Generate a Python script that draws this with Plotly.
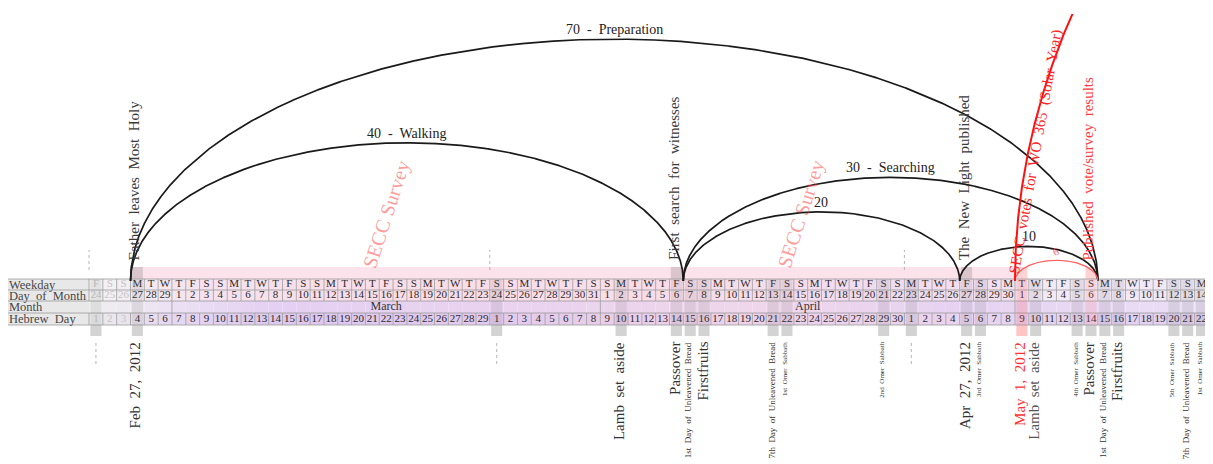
import numpy as np
import pandas as pd
import plotly.graph_objects as go

# ============================ DATA ============================
ORIGIN = "2012-02-27"                 # x = 0  (Feb 27, 2012)
table_start = "2012-02-24"
table_end = "2012-05-14"

weekday = ["F", "S", "S", "M", "T", "W", "T",
           "F", "S", "S", "M", "T", "W", "T",
           "F", "S", "S", "M", "T", "W", "T",
           "F", "S", "S", "M", "T", "W", "T",
           "F", "S", "S", "M", "T", "W", "T",
           "F", "S", "S", "M", "T", "W", "T",
           "F", "S", "S", "M", "T", "W", "T",
           "F", "S", "S", "M", "T", "W", "T",
           "F", "S", "S", "M", "T", "W", "T",
           "F", "S", "S", "M", "T", "W", "T",
           "F", "S", "S", "M", "T", "W", "T",
           "F", "S", "S", "M"]

day_of_month = [24, 25, 26, 27, 28, 29,
                1, 2, 3, 4, 5, 6, 7, 8, 9, 10, 11, 12, 13, 14, 15, 16,
                17, 18, 19, 20, 21, 22, 23, 24, 25, 26, 27, 28, 29, 30, 31,
                1, 2, 3, 4, 5, 6, 7, 8, 9, 10, 11, 12, 13, 14, 15, 16,
                17, 18, 19, 20, 21, 22, 23, 24, 25, 26, 27, 28, 29, 30,
                1, 2, 3, 4, 5, 6, 7, 8, 9, 10, 11, 12, 13, 14]

hebrew_day = [1, 2, 3, 4, 5, 6, 7, 8, 9, 10, 11, 12, 13, 14, 15, 16, 17, 18,
              19, 20, 21, 22, 23, 24, 25, 26, 27, 28, 29,
              1, 2, 3, 4, 5, 6, 7, 8, 9, 10, 11, 12, 13, 14, 15, 16, 17, 18,
              19, 20, 21, 22, 23, 24, 25, 26, 27, 28, 29, 30,
              1, 2, 3, 4, 5, 6, 7, 8, 9, 10, 11, 12, 13, 14, 15, 16, 17, 18,
              19, 20, 21, 22]

row_names = ["Weekday", "Day  of  Month", "Month", "Hebrew  Day"]

month_names = ["March", "April"]
month_first = ["2012-03-01", "2012-04-01"]
month_last = ["2012-03-31", "2012-04-30"]
month_breaks = ["2012-03-01", "2012-04-01", "2012-05-01"]

arc_labels = ["70  -  Preparation", "40  -  Walking", "30  -  Searching", "20", "10", "6", ""]
arc_first = ["2012-02-27", "2012-02-27", "2012-04-07", "2012-04-07",
             "2012-04-27", "2012-05-01", "2012-05-01"]
arc_last = ["2012-05-06", "2012-04-06", "2012-05-06", "2012-04-26",
            "2012-05-06", "2012-05-06", "2013-04-30"]

top_dates = ["2012-02-27", "2012-04-06", "2012-04-27", "2012-05-06"]
top_texts = ["Father  leaves  Most  Holy", "First  search  for  witnesses",
             "The  New  Light  published", "Published  vote/survey  results"]

curve_text = "SECC  votes  for  WO  365  (Solar  Year)"

bottom_dates = ["2012-02-27", "2012-04-02", "2012-04-06", "2012-04-07", "2012-04-08",
                "2012-04-13", "2012-04-14", "2012-04-21", "2012-04-27", "2012-04-28",
                "2012-05-01", "2012-05-02", "2012-05-05", "2012-05-06", "2012-05-07",
                "2012-05-08", "2012-05-12", "2012-05-13", "2012-05-14"]
bottom_texts = ["Feb  27,  2012", "Lamb  set  aside", "Passover",
                "1st  Day  of  Unleavened  Bread", "Firstfruits",
                "7th  Day  of  Unleavened  Bread", "1st  Omer  Sabbath",
                "2nd  Omer  Sabbath", "Apr  27,  2012", "3rd  Omer  Sabbath",
                "May  1,  2012", "Lamb  set  aside", "4th  Omer  Sabbath", "Passover",
                "1st  Day  of  Unleavened  Bread", "Firstfruits", "5th  Omer  Sabbath",
                "7th  Day  of  Unleavened  Bread", "1st  Omer  Sabbath"]

hebrew_month_starts = ["2012-02-24", "2012-03-24", "2012-04-23"]

survey_text = "SECC Survey"
survey_dates = ["2012-03-16", "2012-04-15"]
survey_period = ["2012-02-27", "2012-04-30"]

# ============================ STYLE ============================
OFF = 8             # page body margin of the html page
PX = 13.82          # pixels per day
X0 = 137.4 - OFF    # figure pixel of Feb 27 centre
W, H = 1213, 464
BASE_PX = 281 - OFF # baseline pixel row in the figure
TOP = 14 - OFF
SERIF = "Liberation Serif"
X_LO = -X0 / PX
X_HI = (W - X0) / PX
Y_LO = -(H - BASE_PX)
Y_HI = BASE_PX - TOP

ROW_EDGES = [2, -9, -20, -32, -44]
ROW_MID = [-3.5, -14.5, -26, -38]

bottom_sizes = [15, 15, 15, 9, 15, 9, 7, 7, 15, 7, 15, 15, 7, 15, 9, 15, 7, 9, 7]
bottom_colors = ["#333333"] * len(bottom_texts)
bottom_colors[10] = "#ff3030"
bottom_colors[11] = "#555555"
top_colors = ["#3a3a3a", "#3a3a3a", "#3a3a3a", "#ff3b3b"]
arc_colors = ["#1a1a1a"] * 5 + ["#ff5c5c", "#ff1010"]
arc_widths = [1.7] * 5 + [1.2, 2.0]


def dx(s):
    return (pd.Timestamp(s) - pd.Timestamp(ORIGIN)).days


def hex2rgb(h):
    return [int(h[i:i + 2], 16) for i in (1, 3, 5)]


def grad(stops, d):
    xs = [s[0] for s in stops]
    cs = np.array([hex2rgb(s[1]) for s in stops], dtype=float)
    r = [np.interp(d, xs, cs[:, k]) for k in range(3)]
    return "rgb(%d,%d,%d)" % tuple(int(round(v)) for v in r)


top_stops = [(-3, "#f4f4f4"), (-0.5, "#f2ecf2"), (5, "#f5e2ee"), (20, "#fadde7"),
             (40, "#f8dde9"), (55, "#f0dcf0"), (63, "#f3dfed"), (64, "#f3eaf7"),
             (78, "#f1e9f7")]
month_stops = [(-3, "#efefef"), (2, "#ece2f3"), (10, "#e4d0f2"), (30, "#ead3ef"),
               (45, "#efd6ea"), (60, "#e6d3f2"), (78, "#eadff5")]
heb_stops = [(-3, "#ececec"), (2, "#e6d8f1"), (10, "#ddc8ef"), (25, "#e2caee"),
             (40, "#edd0e8"), (55, "#ebd3ed"), (64, "#e6d4f2"), (78, "#e2d0f2")]
row_stops = [top_stops, top_stops, month_stops, heb_stops]

d_tab = [dx(t) for t in pd.date_range(table_start, table_end, freq="D")]

shapes = []
# pink survey band above the table
p0, p1 = dx(survey_period[0]) - 0.5, dx(survey_period[1]) + 0.5
shapes.append(dict(type="rect", xref="x", yref="y", x0=p0, x1=p1, y0=2, y1=14,
                   fillcolor="rgba(248,190,208,0.45)", line_width=0, layer="below"))

# label column
for r in range(4):
    shapes.append(dict(type="rect", xref="x", yref="y", x0=X_LO, x1=-3.5,
                       y0=ROW_EDGES[r + 1], y1=ROW_EDGES[r],
                       fillcolor="#e8e8e8", line_width=0, layer="below"))
# cell backgrounds
for r in range(4):
    for d in d_tab:
        shapes.append(dict(type="rect", xref="x", yref="y", x0=d - 0.5, x1=d + 0.5,
                           y0=ROW_EDGES[r + 1], y1=ROW_EDGES[r],
                           fillcolor=grad(row_stops[r], d), line_width=0, layer="below"))

# event strips
strip_days = sorted(set([dx(s) for s in bottom_dates] + [dx(s) for s in hebrew_month_starts]))
red_days = [dx("2012-05-01")]
pinkish_days = [dx("2012-05-06")]
for d in strip_days:
    if d in red_days:
        cb, ct = "rgba(255,90,90,0.35)", "rgba(255,90,90,0.22)"
    else:
        cb, ct = "rgba(110,110,110,0.30)", "rgba(110,110,110,0.13)"
        if d in pinkish_days:
            ct = "rgba(255,120,120,0.18)"
    shapes.append(dict(type="rect", xref="x", yref="y", x0=d - 0.4, x1=d + 0.4,
                       y0=-55, y1=-44, fillcolor=cb, line_width=0, layer="below"))
    shapes.append(dict(type="rect", xref="x", yref="y", x0=d - 0.4, x1=d + 0.4,
                       y0=-44, y1=2, fillcolor=ct, line_width=0, layer="above"))
for s in top_dates + ["2012-05-01"]:
    d = dx(s)
    c = "rgba(255,110,110,0.30)" if d in red_days + pinkish_days else "rgba(110,110,110,0.25)"
    shapes.append(dict(type="rect", xref="x", yref="y", x0=d - 0.4, x1=d + 0.4,
                       y0=2, y1=14, fillcolor=c, line_width=0, layer="below"))

# dotted Hebrew month start markers
for s in hebrew_month_starts:
    d = dx(s)
    shapes.append(dict(type="line", xref="x", yref="y", x0=d - 0.5, x1=d - 0.5, y0=11, y1=31,
                       line=dict(color="#b5b5b5", width=1, dash="dot")))
    shapes.append(dict(type="line", xref="x", yref="y", x0=d, x1=d, y0=-62, y1=-84,
                       line=dict(color="#b5b5b5", width=1, dash="dot")))

fig = go.Figure()

# grid lines
gx, gy = [], []
for y in ROW_EDGES:
    gx += [X_LO, X_HI, None]
    gy += [y, y, None]
for d in [d_tab[0] - 1] + d_tab:
    for (ya, yb) in [(ROW_EDGES[0], ROW_EDGES[2]), (ROW_EDGES[3], ROW_EDGES[4])]:
        gx += [d + 0.5, d + 0.5, None]
        gy += [ya, yb, None]
for s in month_breaks:
    d = dx(s) - 0.5
    gx += [d, d, None]
    gy += [ROW_EDGES[2], ROW_EDGES[3], None]
fig.add_trace(go.Scatter(x=gx, y=gy, mode="lines", line=dict(color="#9a9a9a", width=0.8),
                         hoverinfo="skip"))

# cell texts
txt_col = ["#c4c4c4" if d < 0 else "#2b2b2b" for d in d_tab]
for r, vals in [(0, weekday), (1, day_of_month), (3, hebrew_day)]:
    fig.add_trace(go.Scatter(x=d_tab, y=[ROW_MID[r]] * len(d_tab), mode="text",
                             text=[str(v) for v in vals],
                             textfont=dict(family=SERIF, size=11, color=txt_col),
                             hoverinfo="skip"))
fig.add_trace(go.Scatter(x=[(dx(a) + dx(b)) / 2 for a, b in zip(month_first, month_last)],
                         y=[ROW_MID[2]] * len(month_names), mode="text", text=month_names,
                         textfont=dict(family=SERIF, size=12, color="#333333"),
                         hoverinfo="skip"))

# arcs
annotations = []
for lab, a0, a1, col, lw in zip(arc_labels, arc_first, arc_last, arc_colors, arc_widths):
    xs0, xs1 = dx(a0) - 0.5, dx(a1) + 0.5
    c = (xs0 + xs1) / 2
    a = (xs1 - xs0) / 2
    b = a * PX / 2
    th = np.linspace(0, np.pi, 4000)
    fig.add_trace(go.Scatter(x=c - a * np.cos(th), y=b * np.sin(th), mode="lines",
                             line=dict(color=col, width=lw), hoverinfo="skip"))
    if lab:
        red = col != "#1a1a1a"
        annotations.append(dict(x=c, y=b, xref="x", yref="y", text=lab, showarrow=False,
                                yanchor="bottom", textangle=-20 if red else 0,
                                font=dict(family=SERIF, size=11 if red else 14,
                                          color="#ff6b6b" if red else "#222222")))
    if lab == "":
        # label of the long red arc, placed along its rising part
        h = 130
        th0 = np.arcsin(h / b)
        annotations.append(dict(x=c - a * np.cos(th0), y=h, xref="x", yref="y",
                                text=curve_text, showarrow=False, textangle=-80, xshift=7,
                                font=dict(family=SERIF, size=15, color="#ff2020")))

# labels above the table
for s, t, col in zip(top_dates, top_texts, top_colors):
    annotations.append(dict(x=dx(s), y=19, xref="x", yref="y", text=t, showarrow=False,
                            textangle=-90, yanchor="bottom", xshift=-3,
                            font=dict(family=SERIF, size=15, color=col)))
# labels below the table
for s, t, sz, col in zip(bottom_dates, bottom_texts, bottom_sizes, bottom_colors):
    annotations.append(dict(x=dx(s), y=-59, xref="x", yref="y", text=t, showarrow=False,
                            textangle=-90, yanchor="top", xshift=-2,
                            font=dict(family=SERIF, size=sz, color=col)))
# survey watermarks
for s in survey_dates:
    annotations.append(dict(x=dx(s), y=67, xref="x", yref="y", text=survey_text,
                            showarrow=False, textangle=-72,
                            font=dict(family=SERIF, size=20, color="rgba(255,70,70,0.55)")))
# row labels
for r, name in enumerate(row_names):
    annotations.append(dict(x=0, y=ROW_MID[r], xref="paper", yref="y", text=name,
                            showarrow=False, xanchor="left", borderpad=0,
                            font=dict(family=SERIF, size=12.5, color="#474747")))

fig.update_layout(
    width=W, height=H, margin=dict(l=0, r=0, t=TOP, b=0),
    paper_bgcolor="white", plot_bgcolor="white", showlegend=False,
    xaxis=dict(range=[X_LO, X_HI], visible=False, fixedrange=True),
    yaxis=dict(range=[Y_LO, Y_HI], visible=False, fixedrange=True),
    shapes=shapes, annotations=annotations,
)

fig.write_html("out.html")
